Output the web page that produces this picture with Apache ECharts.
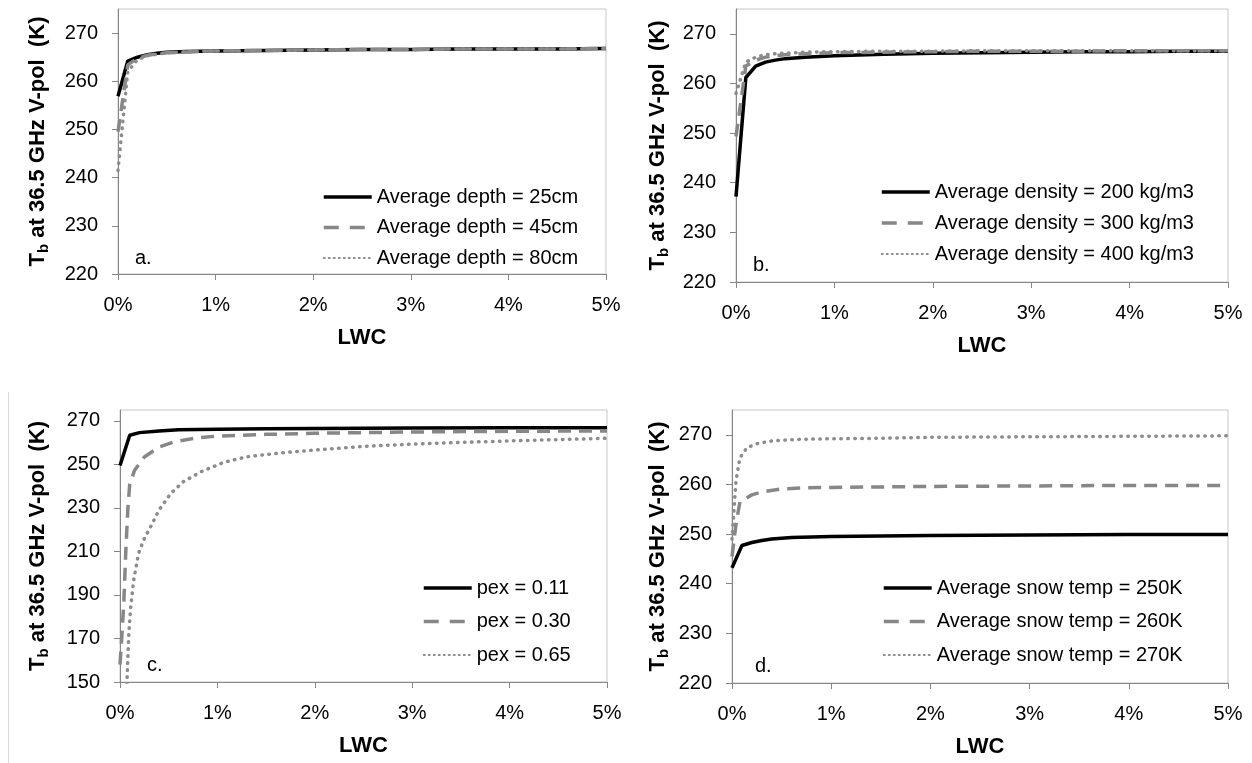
<!DOCTYPE html>
<html><head><meta charset="utf-8">
<script src="https://cdn.jsdelivr.net/npm/echarts@6/dist/echarts.min.js"></script>
<style>html,body{margin:0;padding:0;background:#fff;} #c{width:1252px;height:763px;}</style>
</head><body><div id="c"></div><script>
// ---------- data (LWC in %) ----------
const xTicks = [0, 1, 2, 3, 4, 5];
const yTicks220 = [220, 230, 240, 250, 260, 270];
const yTicks150 = [150, 170, 190, 210, 230, 250, 270];

// panel a: average depth
const lwcA = [0, 0.1, 0.2, 0.3, 0.4, 0.5, 0.7, 1, 1.5, 2, 2.5, 3, 3.5, 4, 4.5, 5];
const depth25 = [256.9, 264.2, 265.0, 265.5, 265.8, 266.0, 266.2, 266.3, 266.4, 266.5, 266.6, 266.6, 266.7, 266.7, 266.7, 266.8];
const depth45 = [249.5, 263.4, 264.8, 265.4, 265.7, 265.9, 266.1, 266.3, 266.4, 266.5, 266.6, 266.6, 266.7, 266.7, 266.7, 266.8];
const depth80 = [241.5, 262.0, 264.5, 265.3, 265.6, 265.9, 266.1, 266.3, 266.4, 266.5, 266.6, 266.6, 266.7, 266.7, 266.7, 266.8];

// panel b: average density
const lwcB = [0, 0.1, 0.2, 0.3, 0.4, 0.5, 0.7, 1, 1.5, 2, 2.5, 3, 3.5, 4, 4.5, 5];
const dens200 = [237.2, 261.2, 263.5, 264.3, 264.7, 265.0, 265.3, 265.6, 265.9, 266.1, 266.2, 266.3, 266.4, 266.4, 266.5, 266.5];
const dens300 = [249.3, 263.5, 264.7, 265.3, 265.6, 265.8, 266.0, 266.2, 266.3, 266.4, 266.5, 266.5, 266.5, 266.6, 266.6, 266.6];
const dens400 = [258.0, 264.3, 265.3, 265.8, 266.0, 266.1, 266.3, 266.4, 266.5, 266.5, 266.6, 266.6, 266.6, 266.6, 266.6, 266.6];

// panel c: pex
const lwcPex011 = [0, 0.1, 0.2, 0.4, 0.6, 1, 1.5, 2, 3, 4, 5];
const pex011 = [249.5, 263.4, 264.6, 265.4, 265.9, 266.2, 266.4, 266.5, 266.7, 266.8, 266.9];
const lwcPex030 = [0, 0.02, 0.04, 0.06, 0.08, 0.1, 0.15, 0.25, 0.4, 0.55, 0.8, 1.0, 1.5, 2, 3, 4, 5];
const pex030 = [158, 172, 187.5, 210.5, 229, 241, 247.3, 253.4, 258, 260.3, 262.3, 263.0, 263.8, 264.3, 264.9, 265.2, 265.4];
const lwcPex065 = [0.05, 0.072, 0.09, 0.11, 0.14, 0.19, 0.24, 0.31, 0.4, 0.52, 0.65, 0.83, 1.07, 1.3, 1.65, 2, 2.5, 3, 3.5, 4, 4.5, 5];
const pex065 = [120, 150.8, 172, 184.5, 196.7, 209, 215, 221, 229, 236.6, 242, 246.6, 251, 253.5, 255.3, 256.6, 258.3, 259.3, 260.1, 260.8, 261.4, 262.0];

// panel d: average snow temperature
const lwcT250 = [0, 0.1, 0.2, 0.3, 0.4, 0.6, 1, 1.5, 2, 3, 4, 5];
const temp250 = [243.2, 247.7, 248.3, 248.7, 249.0, 249.3, 249.5, 249.6, 249.7, 249.8, 249.9, 249.9];
const lwcT260 = [0, 0.04, 0.08, 0.2, 0.3, 0.5, 0.7, 1, 1.5, 2, 3, 4, 5];
const temp260 = [245.5, 252, 256.5, 257.9, 258.5, 259.1, 259.3, 259.4, 259.5, 259.6, 259.7, 259.8, 259.8];
const lwcT270 = [0, 0.04, 0.08, 0.15, 0.25, 0.41, 0.69, 1, 1.5, 2, 3, 4, 5];
const temp270 = [249, 260.7, 265.4, 267.4, 268.2, 268.8, 269.1, 269.2, 269.3, 269.5, 269.6, 269.7, 269.8];

const namesA = ['Average depth = 25cm', 'Average depth = 45cm', 'Average depth = 80cm'];
const namesB = ['Average density = 200 kg/m3', 'Average density = 300 kg/m3', 'Average density = 400 kg/m3'];
const namesC = ['pex = 0.11', 'pex = 0.30', 'pex = 0.65'];
const namesD = ['Average snow temp = 250K', 'Average snow temp = 260K', 'Average snow temp = 270K'];
const panelTags = ['a.', 'b.', 'c.', 'd.'];

// ---------- styling ----------
const FONT = '"Liberation Sans", Arial, sans-serif';
const AXIS_COLOR = '#868686';
const styles = [
  { color: '#000000', width: 3.5, type: 'solid', cap: 'butt' },
  { color: '#878787', width: 3.5, type: [13, 8], cap: 'butt' },
  { color: '#8c8c8c', width: 3.5, type: [0.5, 6.5], cap: 'round' }
];
const legendLineStyles = [
  { width: 3.5, type: 'solid' },
  { width: 3.5, type: [15, 11] },
  { width: 2, type: [1, 4] }
];
const grids = [
  { left: 118, top: 9, width: 488, height: 265 },
  { left: 736, top: 9, width: 492, height: 273 },
  { left: 120, top: 410, width: 487, height: 272 },
  { left: 732, top: 410, width: 496, height: 273 }
];
const yNameGaps = [67, 65, 69, 61];

function pairs(xs, ys) { return xs.map((x, i) => [x, ys[i]]); }

const panels = [
  { names: namesA, data: [pairs(lwcA, depth25), pairs(lwcA, depth45), pairs(lwcA, depth80)], min: 220, ticks: yTicks220 },
  { names: namesB, data: [pairs(lwcB, dens200), pairs(lwcB, dens300), pairs(lwcB, dens400)], min: 220, ticks: yTicks220 },
  { names: namesC, data: [pairs(lwcPex011, pex011), pairs(lwcPex030, pex030), pairs(lwcPex065, pex065)], min: 150, ticks: yTicks150 },
  { names: namesD, data: [pairs(lwcT250, temp250), pairs(lwcT260, temp260), pairs(lwcT270, temp270)], min: 220, ticks: yTicks220 }
];

const option = {
  animation: false,
  backgroundColor: '#fff',
  grid: grids.map(g => Object.assign({ show: true, borderColor: '#c6c6c6', borderWidth: 1, backgroundColor: 'transparent', outerBoundsMode: 'none', containLabel: false }, g)),
  xAxis: panels.map((p, i) => ({
    type: 'value', gridIndex: i, min: 0, max: 5, interval: 1,
    axisLine: { show: true, lineStyle: { color: AXIS_COLOR, width: 1 } },
    axisTick: { show: true, length: 6, lineStyle: { color: AXIS_COLOR }, customValues: xTicks },
    axisLabel: { show: true, customValues: xTicks, formatter: v => v + '%', fontSize: 20, color: '#000', fontFamily: FONT, margin: 21 },
    splitLine: { show: false },
    name: 'LWC', nameLocation: 'middle', nameGap: 53,
    nameTextStyle: { fontSize: 22, fontWeight: 'bold', color: '#000', fontFamily: FONT }
  })),
  yAxis: panels.map((p, i) => ({
    type: 'value', gridIndex: i, min: p.min, max: 275, interval: p.min === 150 ? 20 : 10,
    axisLine: { show: true, lineStyle: { color: AXIS_COLOR, width: 1 } },
    axisTick: { show: true, length: 6, lineStyle: { color: AXIS_COLOR }, customValues: p.ticks },
    axisLabel: { show: true, customValues: p.ticks, fontSize: 20, color: '#000', fontFamily: FONT, margin: 20 },
    splitLine: { show: false },
    name: '{t|T}{s|b}{t| at 36.5 GHz V-pol  (K)}', nameLocation: 'middle', nameGap: yNameGaps[i],
    nameTextStyle: {
      rich: {
        t: { fontSize: 22, fontWeight: 'bold', color: '#000', fontFamily: FONT, lineHeight: 26 },
        s: { fontSize: 15, fontWeight: 'bold', color: '#000', fontFamily: FONT, lineHeight: 14, verticalAlign: 'bottom' }
      }
    }
  })),
  legend: [
    { left: 322, top: 187, itemGap: 10.5 },
    { left: 880, top: 182, itemGap: 11 },
    { left: 422, top: 578, itemGap: 13.5 },
    { left: 882, top: 578, itemGap: 13.5 }
  ].map((l, i) => Object.assign({
    data: panels[i].names.map((n, k) => ({ name: n, lineStyle: legendLineStyles[k] })),
    orient: 'vertical', itemWidth: 48, itemHeight: 14,
    selectedMode: false, padding: 0,
    itemStyle: { opacity: 0, borderWidth: 0 },
    textStyle: { fontSize: 20, color: '#000', fontFamily: FONT }
  }, l)),
  series: [],
  graphic: [
    { type: 'text', x: 135, y: 258, style: { text: panelTags[0], fontSize: 20, fontFamily: FONT, fill: '#000', verticalAlign: 'middle' } },
    { type: 'text', x: 753, y: 265, style: { text: panelTags[1], fontSize: 20, fontFamily: FONT, fill: '#000', verticalAlign: 'middle' } },
    { type: 'text', x: 147, y: 665, style: { text: panelTags[2], fontSize: 20, fontFamily: FONT, fill: '#000', verticalAlign: 'middle' } },
    { type: 'text', x: 755, y: 666, style: { text: panelTags[3], fontSize: 20, fontFamily: FONT, fill: '#000', verticalAlign: 'middle' } },
    { type: 'line', shape: { x1: 8.5, y1: 392, x2: 8.5, y2: 763 }, style: { stroke: '#d9d9d9', lineWidth: 1 } }
  ]
};

panels.forEach((p, i) => {
  p.data.forEach((d, k) => {
    option.series.push({
      type: 'line', name: p.names[k], xAxisIndex: i, yAxisIndex: i,
      data: d, symbol: 'none', showSymbol: false, clip: true,
      lineStyle: { color: styles[k].color, width: styles[k].width, type: styles[k].type, cap: styles[k].cap },
      itemStyle: { color: styles[k].color },
      emphasis: { disabled: true }
    });
  });
});

const chart = echarts.init(document.getElementById('c'));
chart.setOption(option);
</script></body></html>
